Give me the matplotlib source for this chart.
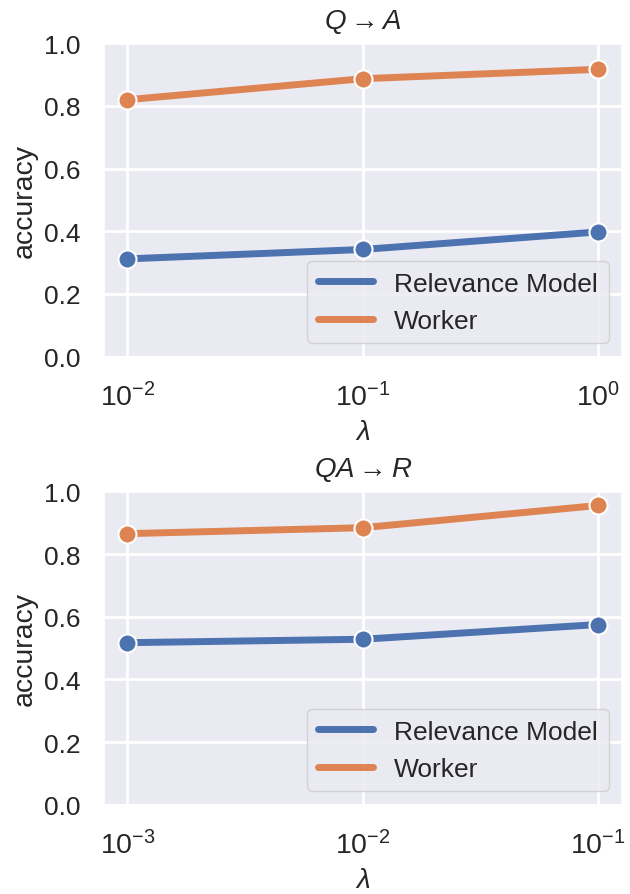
import matplotlib
matplotlib.use("Agg")
import matplotlib.pyplot as plt
import seaborn as sns
import numpy as np

sns.set_theme(style="darkgrid")
plt.rcParams['font.family'] = ['Liberation Sans', 'DejaVu Sans']
plt.rcParams['mathtext.fontset'] = 'custom'
plt.rcParams['mathtext.rm'] = 'Liberation Sans'
plt.rcParams['mathtext.it'] = 'Liberation Sans:italic'
plt.rcParams['grid.linewidth'] = 2.0

# lambda sweeps for the two tasks
lam_qa = [1e-2, 1e-1, 1e0]
lam_qar = [1e-3, 1e-2, 1e-1]

# accuracy per lambda
relevance_qa = [0.312, 0.342, 0.398]
worker_qa = [0.820, 0.887, 0.917]
relevance_qar = [0.517, 0.528, 0.575]
worker_qar = [0.865, 0.884, 0.955]

panels = [
    (r'$Q \rightarrow A$', lam_qa, relevance_qa, worker_qa),
    (r'$QA \rightarrow R$', lam_qar, relevance_qar, worker_qar),
]

blue, orange = sns.color_palette()[0], sns.color_palette()[1]
fs = 19

fig, axes = plt.subplots(2, 1, figsize=(6.3, 8.95), dpi=100)
fig.subplots_adjust(left=0.165, right=0.987, top=0.9505, bottom=0.0998, hspace=0.43)

for ax, (title, lam, rel, wrk) in zip(axes, panels):
    ax.plot(lam, rel, '-o', color=blue, lw=5, ms=13, mec='white', mew=1.5,
            label='Relevance Model')
    ax.plot(lam, wrk, '-o', color=orange, lw=5, ms=13, mec='white', mew=1.5,
            label='Worker')
    ax.set_xscale('log')
    ax.set_ylim(0, 1.0)
    ax.set_yticks(np.arange(0, 1.01, 0.2))
    ax.minorticks_off()
    ax.set_xticks(lam)
    ax.tick_params(axis='y', labelsize=fs, length=0, pad=17)
    ax.tick_params(axis='x', labelsize=20.5, length=0, pad=18)
    ax.set_title(title, fontsize=20, pad=11)
    ax.set_xlabel(r'$\lambda$', fontsize=20, labelpad=6)
    ax.set_ylabel('accuracy', fontsize=20.5, labelpad=4)
    leg = ax.legend(loc='lower right', fontsize=fs, handlelength=2.1)
    for line in leg.get_lines():
        line.set_marker('')
        line.set_linewidth(5)

fig.savefig('out.png', dpi=100)
